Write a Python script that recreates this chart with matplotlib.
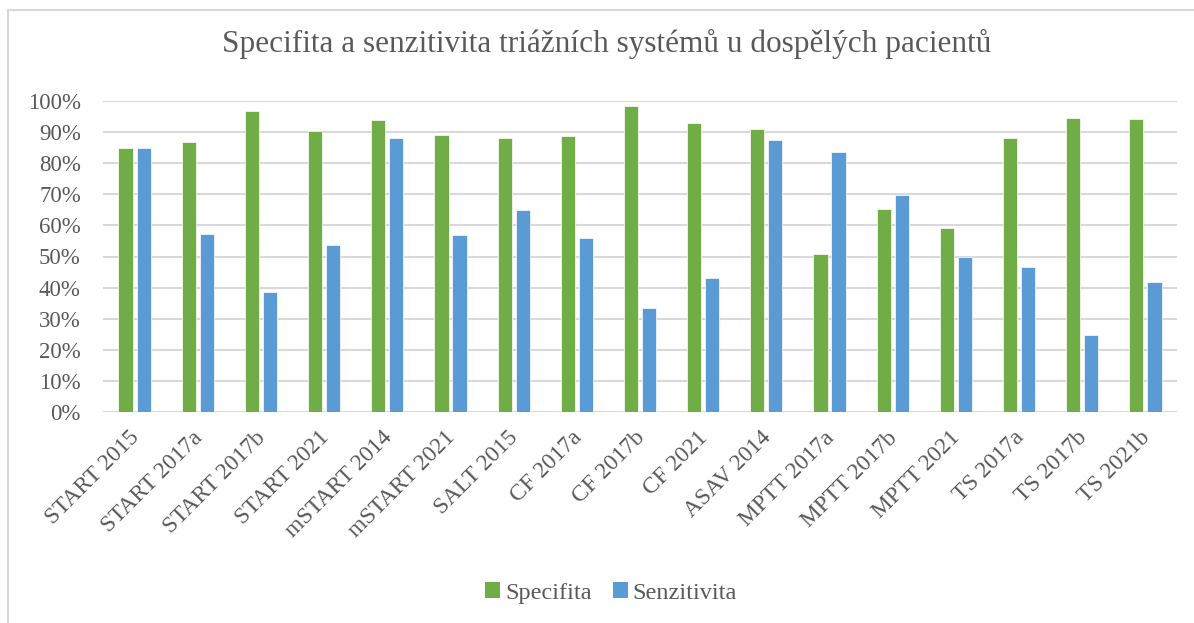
import numpy as np
import matplotlib
matplotlib.use('Agg')
import matplotlib.pyplot as plt
import matplotlib.transforms as mtransforms
from matplotlib.patches import Rectangle, Patch
from matplotlib.ticker import PercentFormatter

# Data ------------------------------------------
CATEGORIES = ['START 2015', 'START 2017a', 'START 2017b', 'START 2021', 'mSTART 2014',
              'mSTART 2021', 'SALT 2015', 'CF 2017a', 'CF 2017b', 'CF 2021', 'ASAV 2014',
              'MPTT 2017a', 'MPTT 2017b', 'MPTT 2021', 'TS 2017a', 'TS 2017b', 'TS 2021b']
SPECIFITA = [85.0, 86.7, 96.9, 90.4, 93.9, 89.0, 88.2, 88.7, 98.4, 92.8, 90.9,
             50.9, 65.3, 59.1, 88.1, 94.6, 94.2]
SENZITIVITA = [85.0, 57.3, 38.6, 53.6, 88.1, 57.0, 65.0, 56.1, 33.4, 43.2, 87.4,
               83.5, 69.9, 49.8, 46.6, 24.8, 41.8]
TITLE = 'Specifita a senzitivita triážních systémů u dospělých pacientů'
# -----------------------------------------------
GREEN = '#70AD47'
BLUE = '#5B9BD5'
TEXT = '#595959'
GRID = '#D9D9D9'

plt.rcParams['font.family'] = ['Liberation Serif', 'DejaVu Serif']

fig = plt.figure(figsize=(11.94, 6.23), dpi=100)
ax = fig.add_axes([103/1194, 1 - 412/623, (1177 - 103)/1194, (412 - 101)/623])

x = np.arange(len(CATEGORIES))
w = 0.225
ax.bar(x - 0.143, SPECIFITA, width=w, color=GREEN, edgecolor='white', linewidth=0.5, zorder=3)
ax.bar(x + 0.143, SENZITIVITA, width=w, color=BLUE, edgecolor='white', linewidth=0.5, zorder=3)

ax.set_xlim(-0.5, len(CATEGORIES) - 0.5)
ax.set_ylim(0, 100)
ax.set_yticks(np.arange(0, 101, 10))
ax.yaxis.set_major_formatter(PercentFormatter(decimals=0))
ax.grid(axis='y', color=GRID, linewidth=1.5, zorder=0)
for s in ax.spines.values():
    s.set_visible(False)
ax.tick_params(axis='both', length=0, colors=TEXT, labelsize=16.5)
ax.tick_params(axis='y', pad=16)
ax.set_xticks(x)
ax.set_xticklabels(CATEGORIES, rotation=45, ha='right', rotation_mode='anchor', fontsize=16.8)
ax.tick_params(axis='x', pad=11)
shift = mtransforms.ScaledTranslation(-6/100, 0, fig.dpi_scale_trans)
for lab in ax.get_xticklabels():
    lab.set_transform(lab.get_transform() + shift)

fig.text(0.508, 0.93, TITLE, ha='center', va='center', fontsize=22.5, color=TEXT)

handles = [Patch(facecolor=GREEN, label='Specifita'), Patch(facecolor=BLUE, label='Senzitivita')]
fig.legend(handles=handles, loc='center', bbox_to_anchor=(0.512, 0.048), ncol=2, frameon=False,
           fontsize=17.5, labelcolor=TEXT, handlelength=0.6, handleheight=0.6,
           handletextpad=0.2, columnspacing=0.9)

# outer chart border (cropped on right and bottom)
fig.patches.append(Rectangle((8/1194, -0.5), 2.0, 1.5 - 10/623, transform=fig.transFigure,
                             fill=False, edgecolor='#D9D9D9', linewidth=1.5, zorder=0))

fig.savefig('out.png', dpi=100)
